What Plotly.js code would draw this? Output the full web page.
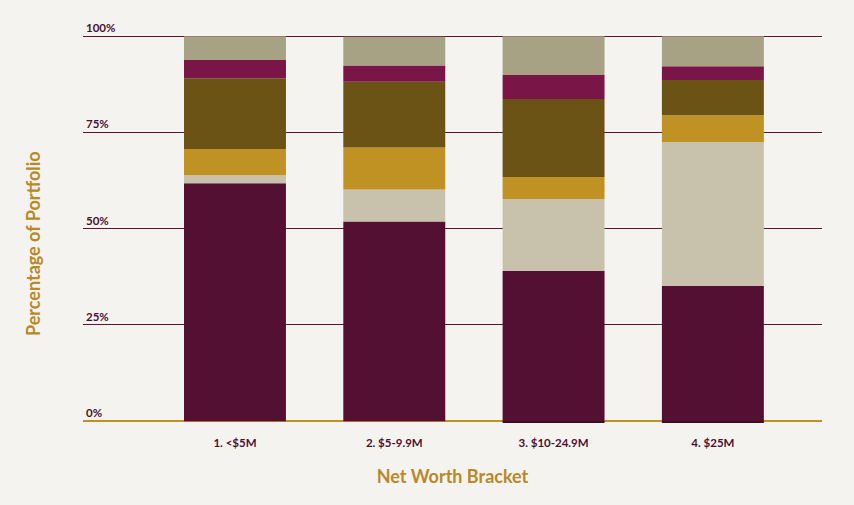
<!DOCTYPE html>
<html>
<head>
<meta charset="utf-8">
<script src="https://cdn.plot.ly/plotly-3.0.1.min.js"></script>
<style>
  html, body { margin: 0; padding: 0; background: #f5f3ef; }
  #chart { width: 854px; height: 505px; }
</style>
</head>
<body>
<div id="chart"></div>
<script>
var brackets = ["1. <$5M", "2. $5-9.9M", "3. $10-24.9M", "4. $25M"];

// share of portfolio per segment, bottom to top
var seg1 = [61.8, 51.9, 39.0, 35.1];
var seg2 = [2.1, 8.3, 18.7, 37.4];
var seg3 = [6.8, 10.9, 5.7, 7.0];
var seg4 = [18.4, 17.1, 20.3, 9.1];
var seg5 = [4.7, 4.2, 6.2, 3.6];
var seg6 = [6.2, 7.5, 10.1, 7.8];
var segNeg = [0, 0, -0.3, -0.3];

var segNames = ["Segment 1", "Segment 2", "Segment 3", "Segment 4", "Segment 5", "Segment 6", "Negative"];
var segColors = ["#541032", "#c8c2ac", "#c09224", "#6b5315", "#7a1548", "#a7a283", "#3e0c26"];

var series = [seg1, seg2, seg3, seg4, seg5, seg6, segNeg];
var data = [];
for (var i = 0; i < series.length; i++) {
  data.push({
    x: brackets,
    y: series[i],
    type: "bar",
    name: segNames[i],
    marker: { color: segColors[i], line: { width: 0 } },
    hovertemplate: "%{x}: %{y}%<extra>" + segNames[i] + "</extra>"
  });
}

var layout = {
  width: 854,
  height: 505,
  barmode: "relative",
  bargap: 0.36,
  showlegend: false,
  paper_bgcolor: "#f5f3ef",
  plot_bgcolor: "#f5f3ef",
  margin: { l: 83, r: 32, t: 17, b: 80 },
  font: { family: "Lato, 'Open Sans', sans-serif", color: "#4a1030" },
  xaxis: {
    type: "category",
    range: [-0.954, 3.685],
    showgrid: false,
    showline: false,
    ticks: "",
    ticklabelstandoff: 9,
    tickfont: { size: 11.5, color: "#4a1030", family: "Lato, sans-serif", weight: "bold" },
    title: { text: "Net Worth Bracket", standoff: 22,
             font: { size: 18, color: "#b8892a", family: "Lato, sans-serif", weight: "bold" } }
  },
  yaxis: {
    range: [-1, 105],
    tickvals: [0, 25, 50, 75, 100],
    ticktext: ["0%", "25%", "50%", "75%", "100%"],
    ticklabelposition: "inside top",
    showgrid: true,
    gridcolor: "#5a1438",
    gridwidth: 1,
    zeroline: true,
    zerolinecolor: "#c09224",
    zerolinewidth: 1.5,
    ticks: "",
    tickfont: { size: 11.5, color: "#4a1030", family: "Lato, sans-serif", weight: "bold" }
  },
  annotations: [{
    text: "Percentage of Portfolio",
    xref: "paper", yref: "paper",
    x: -0.0677, y: 0.446,
    xanchor: "center", yanchor: "middle",
    textangle: -90,
    showarrow: false,
    font: { size: 18, color: "#b8892a", family: "Lato, sans-serif", weight: "bold" }
  }]
};

Plotly.newPlot("chart", data, layout, { displayModeBar: false });
</script>
</body>
</html>
